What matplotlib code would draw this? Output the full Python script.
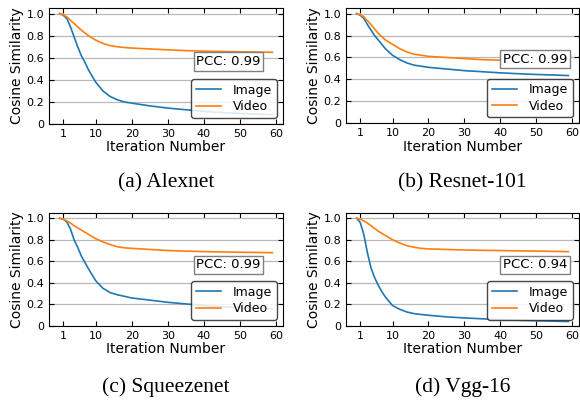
import numpy as np
import matplotlib
matplotlib.use("Agg")
import matplotlib.pyplot as plt

iters = [0, 1, 2, 3, 4, 5, 6, 7, 8, 10, 12, 14, 16, 18, 20, 25, 30, 35, 40, 45, 50, 55, 59]

alex_img = [1.0, 0.985, 0.955, 0.88, 0.79, 0.70, 0.62, 0.56, 0.49, 0.38, 0.30, 0.25, 0.22, 0.20,
            0.19, 0.165, 0.145, 0.13, 0.115, 0.105, 0.097, 0.09, 0.085]
alex_vid = [1.0, 0.99, 0.97, 0.94, 0.91, 0.88, 0.85, 0.825, 0.80, 0.76, 0.73, 0.71, 0.70, 0.693,
            0.688, 0.68, 0.672, 0.665, 0.66, 0.657, 0.654, 0.652, 0.65]

res_img = [1.0, 0.985, 0.955, 0.90, 0.85, 0.80, 0.76, 0.72, 0.68, 0.62, 0.58, 0.55, 0.53, 0.52,
           0.51, 0.495, 0.48, 0.47, 0.46, 0.452, 0.445, 0.44, 0.435]
res_vid = [1.0, 0.99, 0.97, 0.935, 0.90, 0.86, 0.82, 0.79, 0.76, 0.72, 0.68, 0.65, 0.63, 0.62,
           0.61, 0.60, 0.59, 0.58, 0.575, 0.57, 0.565, 0.562, 0.56]

sq_img = [1.0, 0.99, 0.965, 0.90, 0.80, 0.73, 0.65, 0.59, 0.53, 0.42, 0.35, 0.31, 0.29, 0.275,
          0.26, 0.24, 0.22, 0.205, 0.19, 0.18, 0.17, 0.165, 0.16]
sq_vid = [1.0, 0.99, 0.975, 0.955, 0.93, 0.91, 0.89, 0.87, 0.85, 0.81, 0.78, 0.755, 0.735, 0.725,
          0.72, 0.71, 0.70, 0.695, 0.69, 0.687, 0.684, 0.682, 0.68]

vgg_img = [1.0, 0.96, 0.85, 0.68, 0.54, 0.45, 0.38, 0.32, 0.27, 0.19, 0.155, 0.13, 0.115, 0.107,
           0.10, 0.085, 0.075, 0.067, 0.06, 0.054, 0.049, 0.045, 0.042]
vgg_vid = [1.0, 0.99, 0.975, 0.955, 0.93, 0.905, 0.88, 0.86, 0.84, 0.80, 0.77, 0.745, 0.73, 0.72,
           0.715, 0.71, 0.705, 0.702, 0.70, 0.697, 0.695, 0.692, 0.69]

captions = ["(a) Alexnet", "(b) Resnet-101", "(c) Squeezenet", "(d) Vgg-16"]
pcc = ["0.99", "0.99", "0.99", "0.94"]
img_series = [alex_img, res_img, sq_img, vgg_img]
vid_series = [alex_vid, res_vid, sq_vid, vgg_vid]

xticks = [1, 10, 20, 30, 40, 50, 60]
yticks = [0, 0.2, 0.4, 0.6, 0.8, 1.0]
ytick_labels = ["0", "0.2", "0.4", "0.6", "0.8", "1.0"]

fig = plt.figure(figsize=(5.8, 4.03), dpi=100)

# axes boxes in figure fraction: left, bottom, width, height
boxes = [
    [0.0845, 0.692, 0.4035, 0.288],
    [0.5966, 0.694, 0.4017, 0.286],
    [0.0845, 0.191, 0.4035, 0.281],
    [0.5966, 0.191, 0.4017, 0.281],
]
pcc_pos = [(0.767, 0.54), (0.81, 0.555), (0.767, 0.54), (0.81, 0.54)]
cap_y = [0.546, 0.546, 0.04, 0.04]

for k in range(4):
    ax = fig.add_axes(boxes[k])
    ax.plot(iters, img_series[k], color="#1f77b4", lw=1.2, label="Image")
    ax.plot(iters, vid_series[k], color="#ff7f0e", lw=1.2, label="Video")
    ax.set_ylim(0, 1.05)
    ax.set_yticks(yticks)
    ax.set_yticklabels(ytick_labels)
    ax.set_xticks(xticks)
    ax.grid(axis="y", color="0.72", lw=0.9)
    ax.set_axisbelow(True)
    ax.tick_params(direction="in", top=True, right=True, labelsize=8, length=3.5)
    ax.set_xlabel("Iteration Number", fontsize=10, labelpad=1)
    ax.set_ylabel("Cosine Similarity", fontsize=10, labelpad=2)
    leg = ax.legend(loc="lower right", fontsize=9, fancybox=True, framealpha=0.85,
                    borderpad=0.35, labelspacing=0.3, handletextpad=1.0)
    leg.get_frame().set_edgecolor("0.15")
    ax.text(pcc_pos[k][0], pcc_pos[k][1], "PCC: " + pcc[k], transform=ax.transAxes,
            ha="center", va="center", fontsize=9.5,
            bbox=dict(boxstyle="square,pad=0.2", fc="white", ec="0.5", lw=1))
    cx = boxes[k][0] + boxes[k][2] / 2
    fig.text(cx, cap_y[k], captions[k], ha="center", va="center",
             fontsize=15.5, family="Liberation Serif")

fig.savefig("out.png", dpi=100)
